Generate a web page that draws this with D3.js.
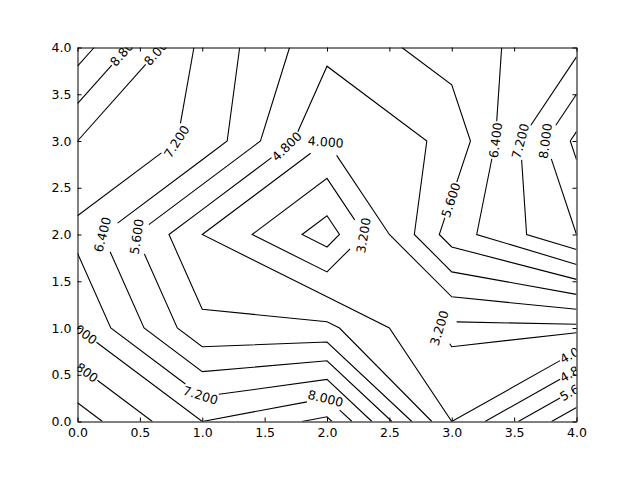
<!DOCTYPE html>
<html><head><meta charset="utf-8">
<script src="https://cdn.jsdelivr.net/npm/d3@7"></script>
<style>body{margin:0;background:#fff}</style>
</head><body>
<script>
// ---------------- data ----------------
const xValues = [0, 1, 2, 3, 4];
const yValues = [0, 1, 2, 3, 4];
// zRows[j][i] is the value at x = xValues[i], y = yValues[j]
const zRows = [
  [10, 8, 9, 4, 7],
  [8, 5, 5, 3, 3],
  [7, 4, 2, 6, 8],
  [8, 7, 4, 5, 9],
  [10, 7, 5, 6, 7]
];
const levels = [2.4, 3.2, 4.0, 4.8, 5.6, 6.4, 7.2, 8.0, 8.8, 9.6];
const xTicks = [0, 0.5, 1, 1.5, 2, 2.5, 3, 3.5, 4];
const yTicks = [0, 0.5, 1, 1.5, 2, 2.5, 3, 3.5, 4];
// contour labels: level and approximate spot (data units) where the label sits
const labelLevels = [8.8, 8.0, 7.2, 4.8, 4.0, 6.4, 7.2, 8.0, 5.6, 6.4, 5.6, 3.2, 3.2, 8.0, 8.8, 7.2, 8.0, 4.0, 4.8, 5.6];
const labelX =      [0.37, 0.64, 0.785, 1.667, 1.99, 3.335, 3.535, 3.735, 2.99, 0.184, 0.465, 2.285, 2.87, 0.02, 0.02, 0.986, 1.988, 4.0, 4.0, 4.0];
const labelY =      [3.97, 3.98, 3.01, 2.96, 2.99, 3.01, 3.01, 3.01, 2.37, 2.0, 1.97, 2.0, 1.0, 0.95, 0.53, 0.28, 0.25, 0.75, 0.55, 0.35];

// ---------------- setup ----------------
const W = 640, H = 480;
const svg = d3.select("body").append("svg").attr("width", W).attr("height", H)
  .style("font-family", "'DejaVu Sans', sans-serif");
const x = d3.scaleLinear().domain([0, 4]).range([77.5, 576.5]);
const y = d3.scaleLinear().domain([0, 4]).range([421.5, 47.5]);

svg.append("defs").append("clipPath").attr("id", "axclip")
  .append("rect").attr("x", x(0)).attr("y", y(4))
  .attr("width", x(4) - x(0)).attr("height", y(0) - y(4));

// ---------------- marching squares ----------------
function contourSegments(level) {
  const segs = [];
  for (let j = 0; j < yValues.length - 1; j++) {
    for (let i = 0; i < xValues.length - 1; i++) {
      const corners = [[i, j], [i + 1, j], [i + 1, j + 1], [i, j + 1]];
      const v = corners.map(([a, b]) => zRows[b][a]);
      const hi = v.map(z => z >= level);
      const pts = {};
      for (let e = 0; e < 4; e++) {
        const a = e, b = (e + 1) % 4;
        if (hi[a] !== hi[b]) {
          const t = (level - v[a]) / (v[b] - v[a]);
          const xa = xValues[corners[a][0]], ya = yValues[corners[a][1]];
          const xb = xValues[corners[b][0]], yb = yValues[corners[b][1]];
          pts[e] = [xa + t * (xb - xa), ya + t * (yb - ya)];
        }
      }
      const es = Object.keys(pts).map(Number);
      if (es.length === 2) segs.push([pts[es[0]], pts[es[1]]]);
      else if (es.length === 4) {
        const center = d3.mean(v);
        const connectHigh = center > level;
        for (let k = 0; k < 4; k++) {
          const isolate = connectHigh ? !hi[k] : hi[k];
          if (isolate) segs.push([pts[(k + 3) % 4], pts[k]]);
        }
      }
    }
  }
  return segs.filter(s => Math.hypot(s[0][0] - s[1][0], s[0][1] - s[1][1]) > 1e-9);
}

function joinSegments(segs) {
  const key = p => p[0].toFixed(6) + "," + p[1].toFixed(6);
  const adj = new Map();
  segs.forEach((s, idx) => s.forEach(p => {
    const k = key(p);
    if (!adj.has(k)) adj.set(k, []);
    adj.get(k).push(idx);
  }));
  const used = new Array(segs.length).fill(false);
  const lines = [];
  function walk(startIdx, startPoint) {
    const pts = [startPoint];
    let cur = startIdx, p = startPoint;
    while (cur != null) {
      used[cur] = true;
      const s = segs[cur];
      const other = key(s[0]) === key(p) ? s[1] : s[0];
      pts.push(other); p = other;
      const nexts = (adj.get(key(p)) || []).filter(i => !used[i]);
      cur = nexts.length ? nexts[0] : null;
    }
    return pts;
  }
  for (const [k, list] of adj) {
    if (list.length === 1 && !used[list[0]]) {
      const s = segs[list[0]];
      const p = key(s[0]) === k ? s[0] : s[1];
      lines.push({ pts: walk(list[0], p), closed: false });
    }
  }
  segs.forEach((s, i) => {
    if (!used[i]) lines.push({ pts: walk(i, s[0]), closed: true });
  });
  return lines;
}

// build polylines in pixel space
const polylines = [];
levels.forEach(level => {
  joinSegments(contourSegments(level)).forEach(l => {
    const px = l.pts.map(p => [x(p[0]), y(p[1])]);
    const cum = [0];
    for (let k = 1; k < px.length; k++) cum.push(cum[k - 1] + Math.hypot(px[k][0] - px[k - 1][0], px[k][1] - px[k - 1][1]));
    polylines.push({ level, px, cum, closed: l.closed, gaps: [] });
  });
});

function pointAt(pl, s) {
  const { px, cum } = pl;
  const n = px.length, total = cum[n - 1];
  if (pl.closed) { s = ((s % total) + total) % total; }
  let k;
  if (s <= 0) k = 1;
  else if (s >= total) k = n - 1;
  else { k = 1; while (k < n - 1 && cum[k] < s) k++; }
  const a = px[k - 1], b = px[k];
  const segLen = cum[k] - cum[k - 1] || 1e-9;
  const t = (s - cum[k - 1]) / segLen;
  return [a[0] + t * (b[0] - a[0]), a[1] + t * (b[1] - a[1])];
}

// measuring text width
const fontSize = 12.5;
const meas = svg.append("text").attr("font-size", fontSize).attr("x", -100).attr("y", -100);
function textWidth(str) { meas.text(str); return meas.node().getComputedTextLength(); }

const fmt = d3.format(".3f");
const labels = [];
labelLevels.forEach((lev, idx) => {
  const tx = x(labelX[idx]), ty = y(labelY[idx]);
  let best = null;
  polylines.filter(p => Math.abs(p.level - lev) < 1e-9).forEach(pl => {
    const { px, cum } = pl;
    for (let k = 1; k < px.length; k++) {
      const a = px[k - 1], b = px[k];
      const dx = b[0] - a[0], dy = b[1] - a[1];
      const L2 = dx * dx + dy * dy || 1e-9;
      let t = ((tx - a[0]) * dx + (ty - a[1]) * dy) / L2;
      t = Math.max(0, Math.min(1, t));
      const qx = a[0] + t * dx, qy = a[1] + t * dy;
      const d = Math.hypot(tx - qx, ty - qy);
      if (!best || d < best.d) best = { d, pl, s: cum[k - 1] + t * Math.sqrt(L2) };
    }
  });
  if (!best) return;
  const text = fmt(lev);
  const w = textWidth(text);
  const half = w / 2 + 1;
  const p0 = pointAt(best.pl, best.s - w / 2), p1 = pointAt(best.pl, best.s + w / 2);
  let ang = Math.atan2(p1[1] - p0[1], p1[0] - p0[0]) * 180 / Math.PI;
  while (ang >= 90) ang -= 180;
  while (ang < -90) ang += 180;
  const c = pointAt(best.pl, best.s);
  best.pl.gaps.push([best.s - half, best.s + half]);
  labels.push({ text, cx: c[0], cy: c[1], ang });
});
meas.remove();

// cut polylines at gaps
function subPath(pl, sa, sb) {
  const pts = [pointAt(pl, sa)];
  const { px, cum } = pl;
  const total = cum[cum.length - 1];
  if (pl.closed) {
    for (let s0 = Math.floor(sa / total) * total; s0 < sb; s0 += total) {
      for (let k = 0; k < px.length; k++) {
        const s = s0 + cum[k];
        if (s > sa && s < sb) pts.push(px[k]);
      }
    }
  } else {
    for (let k = 0; k < px.length; k++) if (cum[k] > sa && cum[k] < sb) pts.push(px[k]);
  }
  pts.push(pointAt(pl, sb));
  return pts;
}
const pieces = [];
polylines.forEach(pl => {
  const total = pl.cum[pl.cum.length - 1];
  if (!pl.gaps.length) { pieces.push({ pts: pl.px, closed: pl.closed }); return; }
  const gaps = pl.gaps.slice().sort((a, b) => a[0] - b[0]);
  if (pl.closed) {
    for (let g = 0; g < gaps.length; g++) {
      const sa = gaps[g][1];
      const sb = g + 1 < gaps.length ? gaps[g + 1][0] : gaps[0][0] + total;
      if (sb > sa) pieces.push({ pts: subPath(pl, sa, sb), closed: false });
    }
  } else {
    let start = 0;
    gaps.forEach(([a, b]) => {
      if (a > start) pieces.push({ pts: subPath(pl, start, Math.min(a, total)), closed: false });
      start = Math.max(start, b);
    });
    if (start < total) pieces.push({ pts: subPath(pl, start, total), closed: false });
  }
});

const line = d3.line();
const plot = svg.append("g").attr("clip-path", "url(#axclip)");
plot.selectAll("path.contour").data(pieces).join("path")
  .attr("class", "contour")
  .attr("d", d => line(d.pts) + (d.closed ? "Z" : ""))
  .attr("fill", "none").attr("stroke", "#000").attr("stroke-width", 1.1)
  .attr("stroke-linejoin", "miter");

plot.selectAll("text.clabel").data(labels).join("text")
  .attr("class", "clabel")
  .attr("transform", d => `translate(${d.cx},${d.cy}) rotate(${d.ang})`)
  .attr("text-anchor", "middle").attr("dy", "0.36em")
  .attr("font-size", fontSize).attr("fill", "#000")
  .text(d => d.text);

// ---------------- axes ----------------
const tf = d3.format(".1f");
function styleAxis(g) {
  g.attr("font-family", "'DejaVu Sans', sans-serif").attr("font-size", 12.5);
  g.selectAll(".domain").attr("stroke", "#000").attr("stroke-width", 1);
  g.selectAll(".tick line").attr("stroke", "#000");
  g.selectAll(".tick text").attr("fill", "#000");
}
svg.append("g").attr("transform", `translate(0,${y(0)})`)
  .call(d3.axisBottom(x).tickValues(xTicks).tickSizeInner(-4).tickSizeOuter(0).tickPadding(7).tickFormat(tf))
  .call(styleAxis);
svg.append("g").attr("transform", `translate(${x(0)},0)`)
  .call(d3.axisLeft(y).tickValues(yTicks).tickSizeInner(-4).tickSizeOuter(0).tickPadding(6).tickFormat(tf))
  .call(styleAxis);
svg.append("g").attr("transform", `translate(0,${y(4)})`)
  .call(d3.axisTop(x).tickValues(xTicks).tickSizeInner(-4).tickSizeOuter(0).tickFormat(""))
  .call(styleAxis);
svg.append("g").attr("transform", `translate(${x(4)},0)`)
  .call(d3.axisRight(y).tickValues(yTicks).tickSizeInner(-4).tickSizeOuter(0).tickFormat(""))
  .call(styleAxis);
</script>
</body></html>
